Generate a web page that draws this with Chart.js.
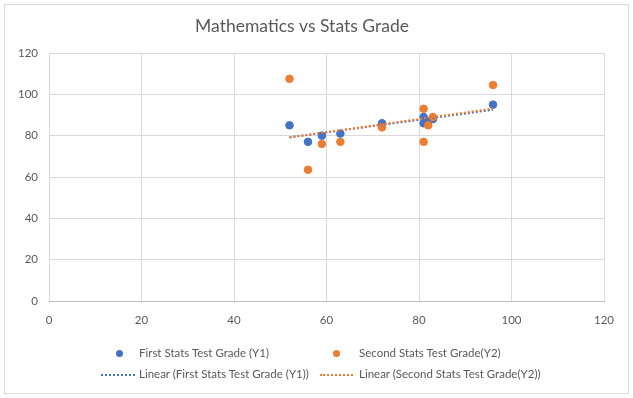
<!DOCTYPE html>
<html>
<head>
<meta charset="utf-8">
<script src="https://cdn.jsdelivr.net/npm/chart.js@4.4.0/dist/chart.umd.min.js"></script>
<style>
    html, body { margin: 0; padding: 0; background: #fff; }
    #wrap { position: relative; width: 633px; height: 398px; font-family: Lato, 'Open Sans', sans-serif; }
    #frame { position: absolute; left: 4px; top: 4px; width: 623px; height: 388px; border: 1px solid #d9d9d9; pointer-events: none; }
    canvas { position: absolute; left: 0; top: 0; }
    .lg { position: absolute; font-size: 11.5px; color: #595959; white-space: nowrap; line-height: 14px; }
    .dot { position: absolute; width: 7px; height: 7px; border-radius: 50%; }
    .dash { position: absolute; height: 0; border-top: 2px dotted; }
</style>
</head>
<body>
<div id="wrap">
    <canvas id="chart" width="633" height="398"></canvas>
    <div id="frame"></div>
    <div id="legend"></div>
</div>
<script>
    // math grade (x) and the two stats test grades (y)
    const mathGrades = [52, 56, 59, 63, 72, 81, 81, 82, 83, 96];
    const firstTest = [85, 77, 80, 81, 86, 89, 86, 87, 88, 95];
    const secondTest = [107.5, 63.5, 76, 77, 84, 93, 77, 85, 89, 104.5];
    const xTicks = [0, 20, 40, 60, 80, 100, 120];
    const yTicks = [0, 20, 40, 60, 80, 100, 120];

    const blue = '#4472C4';
    const orange = '#ED7D31';
    const labelFirst = 'First Stats Test Grade (Y1)';
    const labelSecond = 'Second Stats Test Grade(Y2)';

    function points(xs, ys) {
        return xs.map((x, i) => ({ x: x, y: ys[i] }));
    }

    // least squares trendline, drawn between min and max x
    function trend(xs, ys) {
        const n = xs.length;
        const mx = xs.reduce((a, b) => a + b, 0) / n;
        const my = ys.reduce((a, b) => a + b, 0) / n;
        let sxy = 0, sxx = 0;
        for (let i = 0; i < n; i++) {
            sxy += (xs[i] - mx) * (ys[i] - my);
            sxx += (xs[i] - mx) * (xs[i] - mx);
        }
        const b = sxy / sxx;
        const a = my - b * mx;
        const x0 = Math.min(...xs), x1 = Math.max(...xs);
        return [{ x: x0, y: a + b * x0 }, { x: x1, y: a + b * x1 }];
    }

    const tickFont = { family: 'Lato', size: 11.5 };

    new Chart(document.getElementById('chart'), {
        type: 'scatter',
        data: {
            datasets: [{
                label: labelFirst,
                data: points(mathGrades, firstTest),
                backgroundColor: blue,
                borderColor: blue,
                pointRadius: 3.8,
                pointHoverRadius: 3.8,
                order: 3,
            }, {
                label: labelSecond,
                data: points(mathGrades, secondTest),
                backgroundColor: orange,
                borderColor: orange,
                pointRadius: 3.8,
                pointHoverRadius: 3.8,
                order: 2,
            }, {
                label: 'Linear (' + labelFirst + ')',
                data: trend(mathGrades, firstTest),
                showLine: true,
                borderColor: blue,
                borderWidth: 2,
                borderDash: [2, 2],
                pointRadius: 0,
                order: 1,
            }, {
                label: 'Linear (' + labelSecond + ')',
                data: trend(mathGrades, secondTest),
                showLine: true,
                borderColor: orange,
                borderWidth: 2,
                borderDash: [2, 2],
                pointRadius: 0,
                order: 0,
            }]
        },
        options: {
            responsive: false,
            animation: false,
            layout: { padding: { left: 0, right: 29, top: 0, bottom: 67 } },
            plugins: {
                legend: { display: false },
                tooltip: { enabled: false },
                title: {
                    display: true,
                    text: 'Mathematics vs Stats Grade',
                    color: '#595959',
                    font: { family: 'Lato', size: 17.5, weight: 'normal' },
                    padding: { top: 15.5, bottom: 16.5 },
                }
            },
            scales: {
                x: {
                    min: 0, max: 120,
                    afterBuildTicks: (s) => { s.ticks = xTicks.map(v => ({ value: v })); },
                    afterFit: (s) => { s.height = 30; },
                    grid: { color: '#d9d9d9', drawTicks: false },
                    border: { color: '#bfbfbf' },
                    ticks: { color: '#595959', font: tickFont, padding: 12 },
                },
                y: {
                    min: 0, max: 120,
                    afterBuildTicks: (s) => { s.ticks = yTicks.map(v => ({ value: v })); },
                    afterFit: (s) => { s.width = 49; },
                    grid: { color: '#d9d9d9', drawTicks: false },
                    border: { display: false },
                    ticks: { color: '#595959', font: tickFont, padding: 11 },
                }
            }
        }
    });

    // legend laid out like the original two-row legend
    const legend = document.getElementById('legend');
    function add(html) { legend.insertAdjacentHTML('beforeend', html); }
    add('<div class="dot" style="left:115.5px;top:349.8px;background:' + blue + '"></div>');
    add('<div class="lg" style="left:139px;top:346.3px">' + labelFirst + '</div>');
    add('<div class="dot" style="left:333px;top:349.8px;background:' + orange + '"></div>');
    add('<div class="lg" style="left:359px;top:346.3px">' + labelSecond + '</div>');
    add('<div class="dash" style="left:101px;top:373.5px;width:34px;border-color:' + blue + '"></div>');
    add('<div class="lg" style="left:139px;top:367.3px">Linear (' + labelFirst + ')</div>');
    add('<div class="dash" style="left:320px;top:373.5px;width:33px;border-color:' + orange + '"></div>');
    add('<div class="lg" style="left:359px;top:367.3px">Linear (' + labelSecond + ')</div>');
</script>
</body>
</html>
